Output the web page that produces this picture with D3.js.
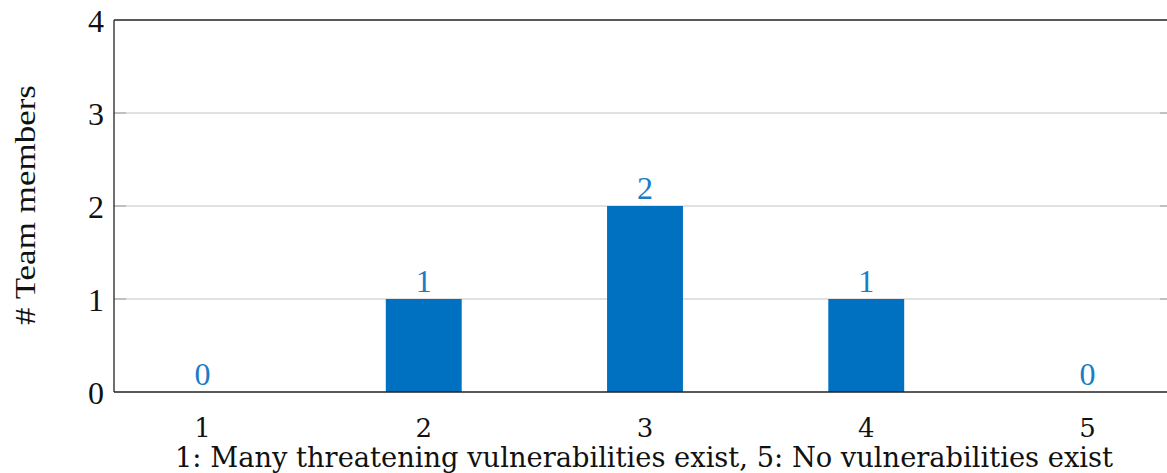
<!DOCTYPE html>
<html><head><meta charset="utf-8">
<script src="https://cdn.jsdelivr.net/npm/d3@7"></script>
<style>body{margin:0;background:#fff}</style>
</head><body>
<svg id="c" width="1167" height="473"></svg>
<script>
const categories = [1, 2, 3, 4, 5];
const values = [0, 1, 2, 1, 0];
const yTicks = [0, 1, 2, 3, 4];
const xLabel = "1: Many threatening vulnerabilities exist, 5: No vulnerabilities exist";
const yLabel = "# Team members";

(function(){
const svg = d3.select("#c");
const pLeft = 114, pRight = 1176, pTop = 20, pBottom = 392;
const x = d3.scaleLinear().domain([0.6, 5.4]).range([pLeft, pRight]);
const y = d3.scaleLinear().domain([0, 4]).range([pBottom, pTop]);
const blue = "#0070C0";
const barW = 0.343;

// gridlines
svg.append("g").selectAll("line").data([1,2,3]).join("line")
  .attr("x1", pLeft).attr("x2", pRight).attr("y1", d=>y(d)).attr("y2", d=>y(d))
  .attr("stroke", "#c4c4c4").attr("stroke-width", 1.2);
// tick marks
svg.append("g").selectAll("line").data([1,2,3]).join("line")
  .attr("x1", pLeft).attr("x2", pLeft+12).attr("y1", d=>y(d)).attr("y2", d=>y(d))
  .attr("stroke", "#aaa").attr("stroke-width", 1.2);
svg.append("g").selectAll("line").data([1,2,3]).join("line")
  .attr("x1", pRight-16).attr("x2", pRight).attr("y1", d=>y(d)).attr("y2", d=>y(d))
  .attr("stroke", "#aaa").attr("stroke-width", 1.2);

// bars
svg.append("g").selectAll("rect").data(categories).join("rect")
  .attr("x", (d)=>x(d - barW/2)).attr("width", x(barW) - x(0))
  .attr("y", (d,i)=>y(values[i])).attr("height", (d,i)=>y(0)-y(values[i]))
  .attr("fill", blue).attr("stroke", (d,i)=>values[i]===0?blue:"none").attr("stroke-width",1.5);

// value labels
svg.append("g").selectAll("text").data(categories).join("text")
  .attr("x", d=>x(d)).attr("y", (d,i)=>y(values[i]) - 7)
  .attr("text-anchor","middle").attr("fill","#1a7cc6")
  .attr("font-family","Liberation Serif").attr("font-size",32)
  .text((d,i)=>values[i]);

// axes lines
svg.append("line").attr("x1",pLeft).attr("x2",pLeft).attr("y1",pTop).attr("y2",pBottom).attr("stroke","#222").attr("stroke-width",1.3);
svg.append("line").attr("x1",pLeft).attr("x2",pRight).attr("y1",pBottom).attr("y2",pBottom).attr("stroke","#222").attr("stroke-width",1.3);
svg.append("line").attr("x1",pLeft).attr("x2",pRight).attr("y1",pTop).attr("y2",pTop).attr("stroke","#222").attr("stroke-width",1.3);

// y tick labels
svg.append("g").selectAll("text").data(yTicks).join("text")
  .attr("x", 104).attr("y", d=>y(d) + 12)
  .attr("text-anchor","end").attr("fill","#111")
  .attr("font-family","Liberation Serif").attr("font-size",32)
  .text(d=>d);

// x tick labels
svg.append("g").selectAll("text").data(categories).join("text")
  .attr("x", d=>x(d)).attr("y", 437)
  .attr("text-anchor","middle").attr("fill","#111")
  .attr("font-family","DejaVu Serif").attr("font-size",26)
  .text(d=>d);

svg.append("text").attr("x", 644).attr("y", 467)
  .attr("text-anchor","middle").attr("fill","#111")
  .attr("font-family","DejaVu Serif").attr("font-size",27.4)
  .attr("textLength", 938).attr("lengthAdjust","spacingAndGlyphs")
  .text(xLabel);

svg.append("text").attr("transform","translate(35,205) rotate(-90)")
  .attr("text-anchor","middle").attr("fill","#111")
  .attr("font-family","Liberation Serif").attr("font-size",30)
  .attr("textLength", 240).attr("lengthAdjust","spacingAndGlyphs")
  .text(yLabel);
})();
</script>
</body></html>
